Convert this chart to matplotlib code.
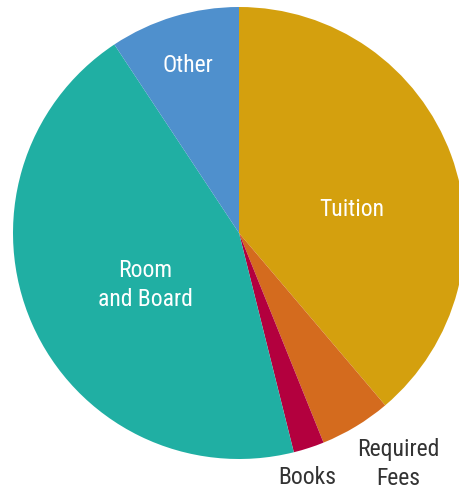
import matplotlib.pyplot as plt

# cost shares (percent), clockwise from the top
categories = ["Tuition", "Required\nFees", "Books", "Room\nand Board", "Other"]
shares = [38.8, 5.1, 2.2, 44.6, 9.3]
colors = ["#D4A00E", "#D46B1E", "#B3003E", "#20AFA3", "#4F90CD"]

plt.rcParams['font.family'] = ['Roboto Condensed', 'DejaVu Sans']

fig = plt.figure(figsize=(4.59, 4.92), dpi=100)
ax = fig.add_axes([0, 0, 1, 1])

ax.pie(shares, colors=colors, startangle=90, counterclock=False,
       center=(239, 259), radius=226, frame=True,
       wedgeprops=dict(linewidth=0))
ax.set_xlim(0, 459)
ax.set_ylim(0, 492)
ax.set_aspect('equal')
ax.axis('off')

# label spots (pixels from top-left)
label_pos = [(352, 210, 'white'), (398, 464, '#333333'), (307, 477, '#333333'),
             (145, 285, 'white'), (188, 66, 'white')]
for name, (x, y, c) in zip(categories, label_pos):
    ax.text(x, 492 - y, name, ha='center', va='center', color=c,
            fontsize=17, linespacing=1.28)

fig.savefig('out.png', dpi=100)
